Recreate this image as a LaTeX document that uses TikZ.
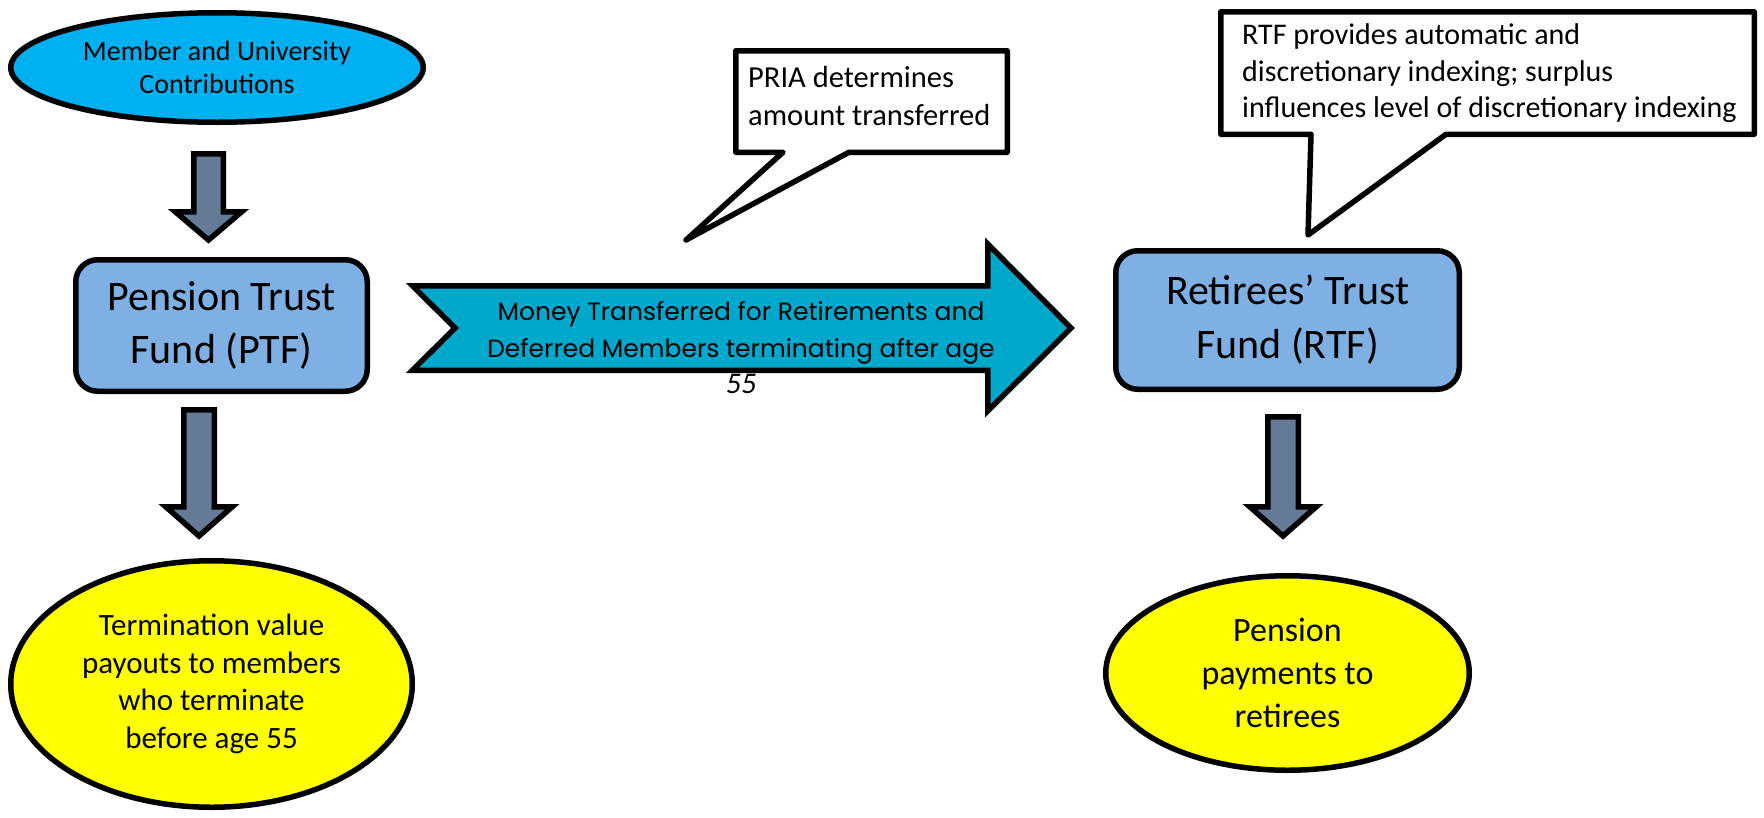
\documentclass[tikz,border=0pt]{standalone}
\usepackage{fontspec}
\setmainfont{Carlito}
\newfontfamily\geofont{Poppins}
\usetikzlibrary{shapes.geometric}
\definecolor{topcyan}{RGB}{0,176,240}
\definecolor{boxblue}{RGB}{127,176,227}
\definecolor{payyellow}{RGB}{255,255,0}
\definecolor{arrowslate}{RGB}{100,122,150}
\definecolor{arrowteal}{RGB}{0,168,204}
\tikzset{
  outl/.style={draw=black, line width=5.5pt},
  topell/.style={outl, ellipse, fill=topcyan, inner sep=0pt, align=center, font=\fontsize{28}{33}\selectfont},
  fundbox/.style={outl, rectangle, rounded corners=22pt, fill=boxblue, inner sep=0pt, align=center, font=\fontsize{42}{53}\selectfont},
  payell/.style={outl, ellipse, fill=payyellow, inner sep=0pt, align=center},
  blkarrow/.style={outl, fill=arrowslate, line join=miter},
  bigarrow/.style={outl, fill=arrowteal, line join=miter},
  calloutbox/.style={outl, fill=white, line join=round},
  notetext/.style={inner sep=0pt, align=left, anchor=west},
}
\newcommand\blkdown[6]{\draw[blkarrow] ({#1-#5},#2) -- ({#1+#5},#2) -- ({#1+#5},#3) -- ({#1+#6},#3) -- (#1,#4) -- ({#1-#6},#3) -- ({#1-#5},#3) -- cycle;}
\begin{document}
\begin{tikzpicture}[x=1pt,y=-1pt]
\useasboundingbox (0,0) rectangle (1764,817);

% main nodes
\node[topell, minimum width=412.5pt, minimum height=109.5pt] (contrib) at (217,67.5) {Member and University\\Contributions};
\node[fundbox, minimum width=291.5pt, minimum height=131.5pt] (ptf) at (221.5,325.5) {Pension Trust\\Fund (PTF)};
\node[fundbox, minimum width=343.5pt, minimum height=138.5pt, font=\fontsize{42}{54}\selectfont] (rtf) at (1287.5,320) {Retirees’ Trust\\Fund (RTF)};
\node[payell, minimum width=401.5pt, minimum height=246.5pt, font=\fontsize{31}{37.5}\selectfont] (term) at (211.5,684) {Termination value\\payouts to members\\who terminate\\before age 55};
\node[payell, minimum width=363.5pt, minimum height=194.5pt, font=\fontsize{34}{43}\selectfont] (pay) at (1287.5,673) {Pension\\payments to\\retirees};

% block arrows down
\blkdown{208.5}{153.75}{211.75}{240}{14.75}{33.25}
\blkdown{199}{409.75}{506.75}{536}{15.25}{33.25}
\blkdown{1283}{416.75}{506.75}{536}{15.25}{33.25}

% big transfer arrow
\draw[bigarrow] (412.5,285.75) -- (987.75,285.75) -- (987.75,244) -- (1071,328) -- (987.75,411) -- (987.75,370.25) -- (412.5,370.25) -- (455,328) -- cycle;
\node[inner sep=0pt, align=center, font=\geofont\fontsize{25}{36.5}\selectfont] (money) at (741,348) {Money Transferred for Retirements and\\Deferred Members terminating after age\\{\normalfont\itshape\fontsize{30}{36.5}\selectfont 55}};

% callouts
\draw[calloutbox] (735.75,50.75) -- (1007.25,50.75) -- (1007.25,152.25) -- (849,152.25) -- (686,240) -- (783,152.25) -- (735.75,152.25) -- cycle;
\node[notetext, font=\fontsize{30.5}{38}\selectfont] (pria) at (748,96) {PRIA determines\\amount transferred};
\draw[calloutbox] (1220.75,11.75) -- (1754.25,11.75) -- (1754.25,134.25) -- (1446,134.25) -- (1308,235) -- (1311,134.25) -- (1220.75,134.25) -- cycle;
\node[notetext, font=\fontsize{30}{36.5}\selectfont] (rtfnote) at (1242,73.5) {RTF provides automatic and\\discretionary indexing; surplus\\influences level of discretionary indexing};
\end{tikzpicture}
\end{document}
